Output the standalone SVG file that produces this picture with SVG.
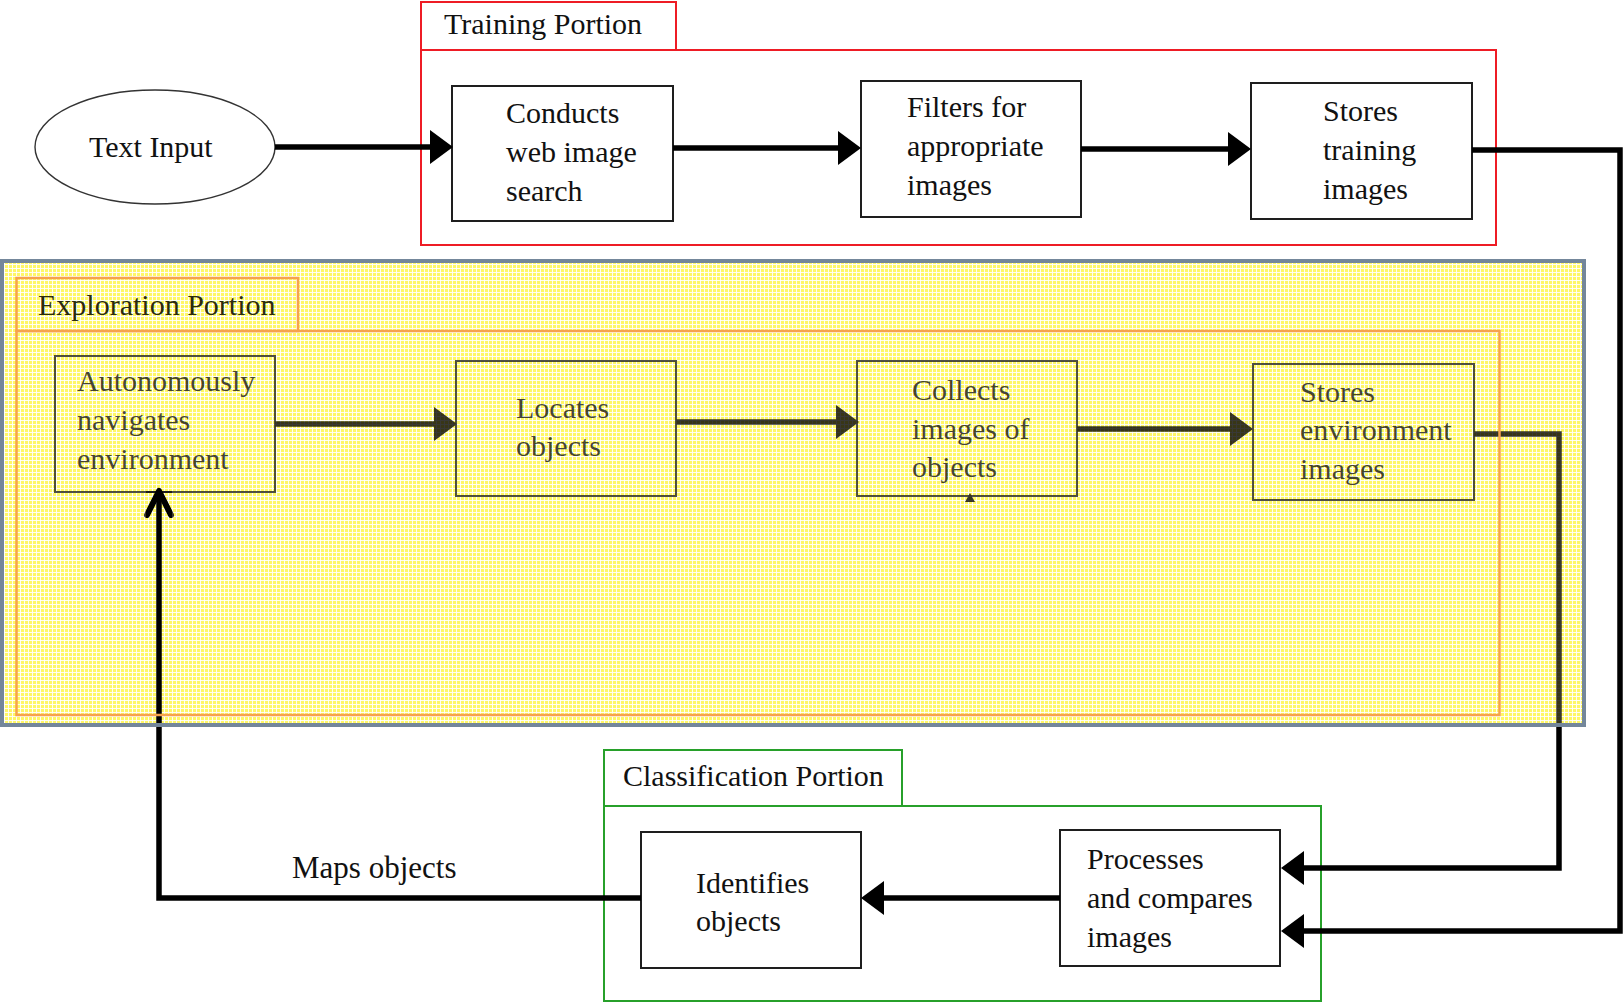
<svg xmlns="http://www.w3.org/2000/svg" width="1623" height="1003" viewBox="0 0 1623 1003">
  <defs>
    <style>
      text { font-family: "Liberation Serif", "Times New Roman", serif; font-size: 30px; fill: #111; }
      .box { fill: #fff; stroke: #1e1e1e; stroke-width: 2; }
      .xbox { fill: none; stroke: #1e1e1e; stroke-width: 2; }
      .red { fill: #fff; stroke: #ee1c25; stroke-width: 2; }
      .green { fill: #fff; stroke: #27a02a; stroke-width: 2; }
      .orange { fill: none; stroke: #f6a24c; stroke-width: 2.5; }
      .wire { fill: none; stroke: #000; stroke-width: 5.5; stroke-linejoin: miter; }
    </style>
    <!-- yellow grid fill used for the exploration panel -->
    <pattern id="grid" width="4" height="4" patternUnits="userSpaceOnUse">
      <rect width="4" height="4" fill="#fff766"/>
      <rect width="4" height="1" fill="#fff" fill-opacity="0.9"/>
      <rect width="1" height="4" fill="#fff" fill-opacity="0.9"/>
    </pattern>
    <marker id="head" markerUnits="userSpaceOnUse" viewBox="0 0 24 34" markerWidth="24" markerHeight="34" refX="19" refY="17" orient="auto">
      <path d="M0,0 L23,17 L0,34 Z" fill="#000"/>
    </marker>
    <marker id="chevron" markerUnits="userSpaceOnUse" viewBox="0 0 34 30" markerWidth="34" markerHeight="30" refX="27" refY="15" orient="auto">
      <path d="M3,3 L27,15 L3,27" fill="none" stroke="#000" stroke-width="6" stroke-linecap="round" stroke-linejoin="round"/>
    </marker>
  </defs>

  <rect width="1623" height="1003" fill="#fff"/>

  <!-- Training portion -->
  <g id="training-portion">
    <rect class="red" x="421" y="50" width="1075" height="195"/>
    <rect class="red" x="421" y="2" width="255" height="48"/>
    <text x="444" y="34">Training Portion</text>
  </g>

  <g id="text-input">
    <ellipse cx="155" cy="147" rx="120" ry="57" fill="#fff" stroke="#333" stroke-width="1.4"/>
    <text x="89" y="157">Text Input</text>
  </g>

  <g id="web-search">
    <rect class="box" x="452" y="86" width="221" height="135"/>
    <text x="506" y="123">Conducts</text>
    <text x="506" y="162">web image</text>
    <text x="506" y="201">search</text>
  </g>

  <g id="filter-images">
    <rect class="box" x="861" y="81" width="220" height="136"/>
    <text x="907" y="117">Filters for</text>
    <text x="907" y="156">appropriate</text>
    <text x="907" y="195">images</text>
  </g>

  <g id="store-training">
    <rect class="box" x="1251" y="83" width="221" height="136"/>
    <text x="1323" y="121">Stores</text>
    <text x="1323" y="160">training</text>
    <text x="1323" y="199">images</text>
  </g>

  <!-- Exploration portion background -->
  <g id="exploration-panel">
    <rect x="2" y="261" width="1582" height="464" fill="url(#grid)"/>
  </g>

  <g id="navigate">
    <rect class="xbox" x="55" y="356" width="220" height="136"/>
    <text x="77" y="391">Autonomously</text>
    <text x="77" y="430">navigates</text>
    <text x="77" y="469">environment</text>
  </g>

  <g id="locate">
    <rect class="xbox" x="456" y="361" width="220" height="135"/>
    <text x="516" y="418">Locates</text>
    <text x="516" y="456">objects</text>
  </g>

  <g id="collect">
    <rect class="xbox" x="857" y="361" width="220" height="135"/>
    <text x="912" y="400">Collects</text>
    <text x="912" y="439">images of</text>
    <text x="912" y="477">objects</text>
    <path d="M965,502 L970,493 L975,502 Z" fill="#000"/>
  </g>

  <g id="store-environment">
    <rect class="xbox" x="1253" y="364" width="221" height="136"/>
    <text x="1300" y="402">Stores</text>
    <text x="1300" y="440">environment</text>
    <text x="1300" y="479">images</text>
  </g>

  <!-- Classification portion -->
  <g id="classification-portion">
    <rect class="green" x="604" y="806" width="717" height="195"/>
    <rect class="green" x="604" y="750" width="298" height="56"/>
    <text x="623" y="786">Classification Portion</text>
  </g>

  <g id="identify">
    <rect class="box" x="641" y="832" width="220" height="136"/>
    <text x="696" y="893">Identifies</text>
    <text x="696" y="931">objects</text>
  </g>

  <g id="process-compare">
    <rect class="box" x="1060" y="830" width="220" height="136"/>
    <text x="1087" y="869">Processes</text>
    <text x="1087" y="908">and compares</text>
    <text x="1087" y="947">images</text>
  </g>

  <!-- Connectors -->
  <g id="connectors">
    <path class="wire" d="M275,147 H449" marker-end="url(#head)"/>
    <path class="wire" d="M673,148 H857" marker-end="url(#head)"/>
    <path class="wire" d="M1081,149 H1247" marker-end="url(#head)"/>
    <path class="wire" d="M1472,150 H1620 V931 H1285" marker-end="url(#head)"/>
    <path class="wire" d="M275,424 H453" marker-end="url(#head)"/>
    <path class="wire" d="M676,422 H855" marker-end="url(#head)"/>
    <path class="wire" d="M1077,429 H1249" marker-end="url(#head)"/>
    <path class="wire" d="M1474,434 H1559 V868 H1285" marker-end="url(#head)"/>
    <path class="wire" d="M1060,898 H865" marker-end="url(#head)"/>
    <path class="wire" d="M641,898 H159 V491" marker-end="url(#chevron)"/>
    <text x="292" y="878" style="font-size:31px">Maps objects</text>
  </g>

  <!-- Translucent yellow wash over the exploration contents, leaving the return arrow clear -->
  <path d="M4,263 H1582 V723 H4 Z M146,484 V722.9 H172 V484 Z" fill="url(#grid)" fill-opacity="0.22" fill-rule="evenodd"/>

  <g id="exploration-frame">
    <rect class="orange" x="16.5" y="331" width="1483" height="384"/>
    <rect class="orange" x="16.5" y="278" width="281.5" height="53"/>
    <text x="38" y="315" style="fill:#2a2a10">Exploration Portion</text>
    <rect x="2" y="261" width="1582" height="464" fill="none" stroke="#74879b" stroke-width="4"/>
  </g>
</svg>
